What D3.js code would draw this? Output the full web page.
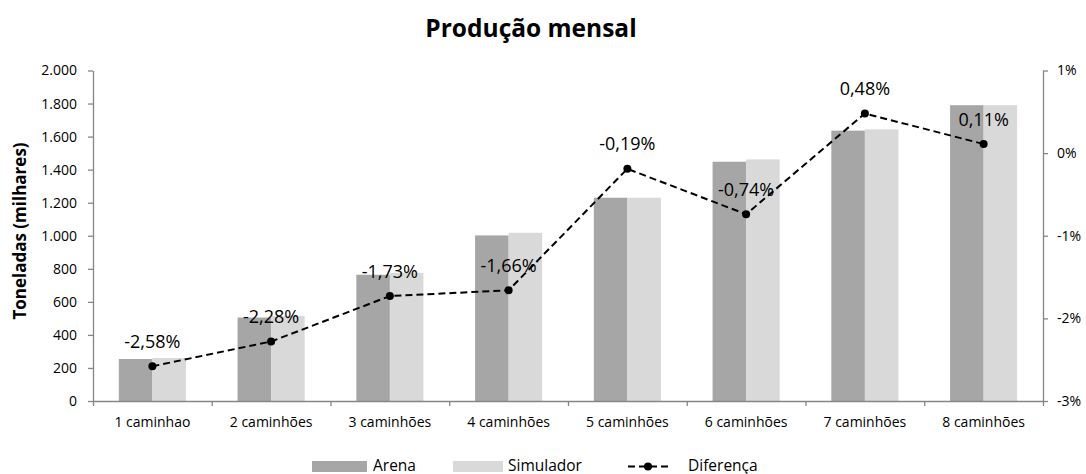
<!DOCTYPE html>
<html>
<head>
<meta charset="utf-8">
<script src="https://cdn.jsdelivr.net/npm/d3@7"></script>
<style>
  html, body { margin: 0; padding: 0; background: #fff; }
  svg text { font-family: "Open Sans", "Noto Sans", sans-serif; fill: #000; }
</style>
</head>
<body>
<svg id="chart" width="1086" height="474"></svg>
<script>
// Monthly production: Arena vs. Simulador (thousand tonnes) and their % difference
const categories = ["1 caminhao", "2 caminhões", "3 caminhões", "4 caminhões",
                    "5 caminhões", "6 caminhões", "7 caminhões", "8 caminhões"];
const arena     = [254, 505, 764, 1002, 1230, 1448, 1636, 1790];
const simulador = [260, 515, 776, 1018, 1230, 1462, 1644, 1790];
const diferenca = [-2.58, -2.28, -1.73, -1.66, -0.19, -0.74, 0.48, 0.11];
const leftTicks  = [0, 200, 400, 600, 800, 1000, 1200, 1400, 1600, 1800, 2000];
const rightTicks = [1, 0, -1, -2, -3];
const seriesNames = ["Arena", "Simulador", "Diferença"];

const colors = { arena: "#a6a6a6", simulador: "#d9d9d9", axis: "#868686" };

const ptBR = d3.formatLocale({ decimal: ",", thousands: ".", grouping: [3], currency: ["R$", ""], minus: "-" });
const fmtThousands = ptBR.format(",d");
const fmtPct2 = ptBR.format(".2f");

const svg = d3.select("#chart");
const plot = { left: 93, right: 1043, top: 70.5, bottom: 401 };

const x = d3.scaleBand().domain(categories).range([plot.left, plot.right]);
const xEdges = d3.scaleLinear().domain([0, categories.length]).range([plot.left, plot.right]);
const yLeft = d3.scaleLinear().domain([0, 2000]).range([plot.bottom, plot.top]);
const yRight = d3.scaleLinear().domain([-3, 1]).range([plot.bottom, plot.top]);

const groupWidth = x.bandwidth() * 0.565;
const barWidth = groupWidth / 2;

// Bars
const g = svg.append("g");
categories.forEach((c, i) => {
  const x0 = x(c) + (x.bandwidth() - groupWidth) / 2;
  g.append("rect")
    .attr("x", x0).attr("width", barWidth)
    .attr("y", yLeft(arena[i])).attr("height", yLeft(0) - yLeft(arena[i]))
    .attr("fill", colors.arena);
  g.append("rect")
    .attr("x", x0 + barWidth).attr("width", barWidth)
    .attr("y", yLeft(simulador[i])).attr("height", yLeft(0) - yLeft(simulador[i]))
    .attr("fill", colors.simulador);
});

// Left axis
const leftAxis = svg.append("g")
  .attr("transform", `translate(${plot.left},0)`)
  .call(d3.axisLeft(yLeft).tickValues(leftTicks).tickSize(5).tickSizeOuter(0)
        .tickPadding(11).tickFormat(fmtThousands));
// Right axis
const rightAxis = svg.append("g")
  .attr("transform", `translate(${plot.right},0)`)
  .call(d3.axisRight(yRight).tickValues(rightTicks).tickSize(5).tickSizeOuter(0)
        .tickPadding(9).tickFormat(d => d + "%"));
// Bottom axis: ticks on the category boundaries
const bottomAxis = svg.append("g")
  .attr("transform", `translate(0,${plot.bottom})`)
  .call(d3.axisBottom(xEdges).tickValues(d3.range(categories.length + 1))
        .tickSize(5).tickSizeOuter(0).tickFormat(""));

[leftAxis, rightAxis, bottomAxis].forEach(a => {
  a.selectAll("path.domain").attr("stroke", colors.axis).attr("stroke-width", 1.3);
  a.selectAll(".tick line").attr("stroke", colors.axis).attr("stroke-width", 1.3);
  a.selectAll(".tick text").style("font-size", "14px").attr("fill", "#000")
    .style("font-family", '"Open Sans", "Noto Sans", sans-serif');
});

// Category labels
svg.append("g").selectAll("text").data(categories).join("text")
  .attr("x", d => x(d) + x.bandwidth() / 2)
  .attr("y", 427)
  .attr("text-anchor", "middle")
  .style("font-size", "14px")
  .text(d => d);

// Difference line
const cx = i => x(categories[i]) + x.bandwidth() / 2;
const line = d3.line().x((d, i) => cx(i)).y(d => yRight(d));
svg.append("path")
  .datum(diferenca)
  .attr("d", line)
  .attr("fill", "none")
  .attr("stroke", "#000")
  .attr("stroke-width", 2)
  .attr("stroke-dasharray", "7,4");
svg.append("g").selectAll("circle").data(diferenca).join("circle")
  .attr("cx", (d, i) => cx(i))
  .attr("cy", d => yRight(d))
  .attr("r", 4)
  .attr("fill", "#000");
svg.append("g").selectAll("text").data(diferenca).join("text")
  .attr("x", (d, i) => cx(i))
  .attr("y", d => yRight(d) - 18.5)
  .attr("text-anchor", "middle")
  .style("font-size", "18px")
  .text(d => fmtPct2(d) + "%");

// Title
svg.append("text")
  .attr("x", 531).attr("y", 37)
  .attr("text-anchor", "middle")
  .style("font-size", "24.5px").style("font-weight", "bold")
  .text("Produção mensal");

// Y-axis title
svg.append("text")
  .attr("transform", "translate(26,231) rotate(-90)")
  .attr("text-anchor", "middle")
  .style("font-size", "17px").style("font-weight", "bold")
  .text("Toneladas (milhares)");

// Legend
const legend = svg.append("g");
const legY = 466.5;
const legFont = "15.5px";
legend.append("rect").attr("x", 312).attr("y", legY - 5.5).attr("width", 55).attr("height", 11).attr("fill", colors.arena);
legend.append("text").attr("x", 373).attr("y", legY + 4).style("font-size", legFont).text(seriesNames[0]);
legend.append("rect").attr("x", 453).attr("y", legY - 5.5).attr("width", 50).attr("height", 11).attr("fill", colors.simulador);
legend.append("text").attr("x", 508).attr("y", legY + 4).style("font-size", legFont).text(seriesNames[1]);
legend.append("line").attr("x1", 628).attr("x2", 672).attr("y1", legY).attr("y2", legY)
  .attr("stroke", "#000").attr("stroke-width", 2).attr("stroke-dasharray", "7,4");
legend.append("circle").attr("cx", 648).attr("cy", legY).attr("r", 4).attr("fill", "#000");
legend.append("text").attr("x", 688).attr("y", legY + 4).style("font-size", legFont).text(seriesNames[2]);
</script>
</body>
</html>
